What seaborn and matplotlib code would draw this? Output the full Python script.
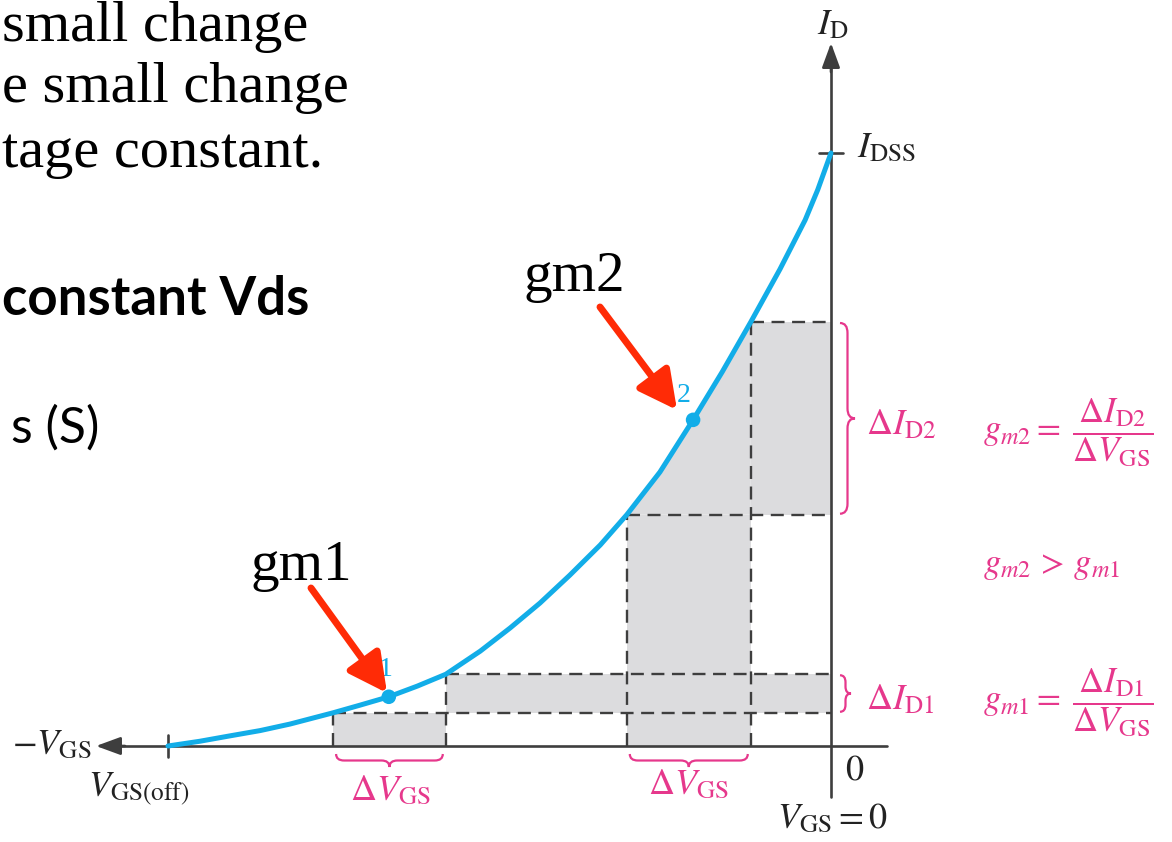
import numpy as np
import pandas as pd
import matplotlib
matplotlib.use("Agg")
import matplotlib.pyplot as plt
from matplotlib.path import Path
from matplotlib.patches import PathPatch, Polygon
import seaborn as sns

# JFET transfer characteristic, normalised: V_GS / |V_GS(off)| and I_D / I_DSS
vgs_curve = [-1.000, -0.952, -0.907, -0.861, -0.816, -0.751, -0.710, -0.667,
             -0.624, -0.581, -0.529, -0.484, -0.439, -0.394, -0.348, -0.308,
             -0.258, -0.208, -0.164, -0.121, -0.077, -0.039, -0.020, 0.000]
id_curve = [0.000, 0.008, 0.017, 0.026, 0.037, 0.056, 0.069, 0.083,
            0.101, 0.121, 0.160, 0.199, 0.241, 0.288, 0.339, 0.390,
            0.462, 0.550, 0.631, 0.715, 0.804, 0.887, 0.938, 1.000]

# operating points 1 and 2
pt_labels = ["1", "2"]
pt_vgs = [-0.667, -0.208]
pt_id = [0.083, 0.550]

# small-signal increments around each point
dvgs1 = [-0.751, -0.581]
did1 = [0.056, 0.121]
dvgs2 = [-0.308, -0.121]
did2 = [0.390, 0.715]

vgs_off = -1.0
idss = 1.0

# figure geometry: pixel <-> data helpers
W, H = 1172, 842
OX, OY = 831, 746          # origin in pixels
SX, SY = 663, 593          # pixels per unit


def X(px):
    return (px - OX) / SX


def Y(py):
    return (OY - py) / SY


def P(px, py):
    return (X(px), Y(py))


def PX(v):
    return OX + v * SX


def PY(i):
    return OY - i * SY


sns.set_theme(style="white")
plt.rcParams["mathtext.fontset"] = "stix"
plt.rcParams["font.family"] = ["Liberation Serif", "DejaVu Serif"]

BLUE = "#12ADE8"
PINK = "#E6388C"
RED = "#FF2B06"
GRAY = "#DCDCDE"
DARK = "#3E3E3E"

fig = plt.figure(figsize=(W / 100, H / 100), dpi=100)
ax = fig.add_axes([0, 0, 1, 1])
ax.axis("off")

# shaded increment areas
ax.add_patch(plt.Rectangle((dvgs1[0], 0), dvgs1[1] - dvgs1[0], did1[0],
                           color=GRAY, lw=0, zorder=1))
ax.add_patch(plt.Rectangle((dvgs1[1], did1[0]), 0 - dvgs1[1], did1[1] - did1[0],
                           color=GRAY, lw=0, zorder=1))
ax.add_patch(plt.Rectangle((dvgs2[0], 0), dvgs2[1] - dvgs2[0], did2[0],
                           color=GRAY, lw=0, zorder=1))
ax.add_patch(plt.Rectangle((dvgs2[1], did2[0]), 0 - dvgs2[1], did2[1] - did2[0],
                           color=GRAY, lw=0, zorder=1))
under = [(v, i) for v, i in zip(vgs_curve, id_curve) if dvgs2[0] <= v <= dvgs2[1]]
poly = [(dvgs2[0], did2[0])] + under + [(dvgs2[1], did2[1]), (dvgs2[1], did2[0])]
ax.add_patch(Polygon(poly, closed=True, color=GRAY, lw=0, zorder=1))

# dashed construction lines
dash = dict(color=DARK, lw=1.7, ls=(0, (5.5, 3.2)), zorder=2)
ax.plot([dvgs1[0], 0], [did1[0], did1[0]], **dash)
ax.plot([dvgs1[1], 0], [did1[1], did1[1]], **dash)
ax.plot([dvgs1[0], dvgs1[0]], [0, did1[0]], **dash)
ax.plot([dvgs1[1], dvgs1[1]], [0, did1[1]], **dash)
ax.plot([dvgs2[0], 0], [did2[0], did2[0]], **dash)
ax.plot([dvgs2[1], 0], [did2[1], did2[1]], **dash)
ax.plot([dvgs2[0], dvgs2[0]], [0, did2[0]], **dash)
ax.plot([dvgs2[1], dvgs2[1]], [0, did2[1]], **dash)

# axes with arrows
ax.plot([X(118), X(887)], [0, 0], color=DARK, lw=1.9, zorder=3)
ax.plot([0, 0], [Y(797), Y(62)], color=DARK, lw=1.9, zorder=3)
head = dict(arrowstyle="-|>,head_length=1.5,head_width=0.55", color=DARK,
            lw=1.9, shrinkA=0, shrinkB=0, mutation_scale=10)
ax.annotate("", xy=P(96, OY), xytext=P(125, OY), arrowprops=head, zorder=3)
ax.annotate("", xy=P(OX, 43), xytext=P(OX, 72), arrowprops=head, zorder=3)
# ticks at V_GS(off) and I_DSS
ax.plot([vgs_off, vgs_off], [11 / SY, -11 / SY], color=DARK, lw=1.9, zorder=3)
ax.plot([-12 / SX, 12 / SX], [idss, idss], color=DARK, lw=1.9, zorder=3)

# transfer curve and operating points
df_curve = pd.DataFrame({"vgs": vgs_curve, "id": id_curve})
sns.lineplot(data=df_curve, x="vgs", y="id", sort=False, estimator=None,
             color=BLUE, lw=3.6, ax=ax, zorder=5, solid_joinstyle="round")
df_pts = pd.DataFrame({"vgs": pt_vgs, "id": pt_id})
sns.scatterplot(data=df_pts, x="vgs", y="id", s=110, color=BLUE,
                edgecolor="none", ax=ax, zorder=7)
ax.text(pt_vgs[0] - 3 / SX, pt_id[0] + 27 / SY, pt_labels[0], color=BLUE,
        fontsize=20, ha="center", va="center", zorder=6)
ax.text(pt_vgs[1] - 9 / SX, pt_id[1] + 24 / SY, pt_labels[1], color=BLUE,
        fontsize=20, ha="center", va="center", zorder=6)


def brace_h(v0, v1, ytop_px, d=13, r=8, lw=1.6):
    x0, x1 = PX(v0) + 3, PX(v1) - 3
    xm = (x0 + x1) / 2
    ym = ytop_px + d / 2
    yt = ytop_px + d
    verts = [(x0, ytop_px), (x0, ym), (x0 + r, ym), (xm - r, ym), (xm, ym), (xm, yt),
             (xm, ym), (xm + r, ym), (x1 - r, ym), (x1, ym), (x1, ytop_px)]
    codes = [Path.MOVETO, Path.CURVE3, Path.CURVE3, Path.LINETO, Path.CURVE3, Path.CURVE3,
             Path.CURVE3, Path.CURVE3, Path.LINETO, Path.CURVE3, Path.CURVE3]
    verts = [P(a, b) for a, b in verts]
    ax.add_patch(PathPatch(Path(verts, codes), fill=False, color=PINK, lw=lw, zorder=4))


def brace_v(i0, i1, xl_px, d=14, r=9, lw=1.6):
    y0, y1 = PY(i1) + 1, PY(i0) - 1
    ym_ = (y0 + y1) / 2
    xm = xl_px + d / 2
    xt = xl_px + d
    verts = [(xl_px, y0), (xm, y0), (xm, y0 + r), (xm, ym_ - r), (xm, ym_), (xt, ym_),
             (xm, ym_), (xm, ym_ + r), (xm, y1 - r), (xm, y1), (xl_px, y1)]
    codes = [Path.MOVETO, Path.CURVE3, Path.CURVE3, Path.LINETO, Path.CURVE3, Path.CURVE3,
             Path.CURVE3, Path.CURVE3, Path.LINETO, Path.CURVE3, Path.CURVE3]
    verts = [P(a, b) for a, b in verts]
    ax.add_patch(PathPatch(Path(verts, codes), fill=False, color=PINK, lw=lw, zorder=4))


brace_h(dvgs1[0], dvgs1[1], 754)
brace_h(dvgs2[0], dvgs2[1], 754)
brace_v(did2[0], did2[1], 840, d=15, r=10)
brace_v(did1[0], did1[1], 840, d=11, r=7)

# red pointer arrows
red = dict(arrowstyle="-|>,head_length=1.55,head_width=0.8", color=RED, lw=5,
           shrinkA=0, shrinkB=0, mutation_scale=15)
ax.annotate("", xy=P(387, 693), xytext=P(311, 588), arrowprops=red, zorder=6)
ax.annotate("", xy=P(677, 410), xytext=P(600, 307), arrowprops=red, zorder=6)
ax.text(*P(250, 580), "gm1", fontsize=41, ha="left", va="baseline", color="black")
ax.text(*P(523, 291), "gm2", fontsize=41, ha="left", va="baseline", color="black")

# axis labels
lab = dict(fontsize=26, color="#222222")
ax.text(*P(833, 26), r"$I_{\rm D}$", ha="center", va="center", **lab)
ax.text(*P(857, 157), r"$I_{\rm DSS}$", ha="left", va="baseline", **lab)
ax.text(*P(91, 754), r"$-V_{\rm GS}$", ha="right", va="baseline", **lab)
ax.text(*P(139, 797), r"$V_{\rm GS(off)}$", ha="center", va="baseline", **lab)
ax.text(*P(855, 779), r"$0$", ha="center", va="baseline", **lab)
ax.text(*P(832, 828), r"$V_{\rm GS} = 0$", ha="center", va="baseline", **lab)

# increment labels and formulas
pk = dict(fontsize=26, color=PINK)
ax.text(*P(390, 800), r"$\Delta V_{\rm GS}$", ha="center", va="baseline", **pk)
ax.text(*P(688, 794), r"$\Delta V_{\rm GS}$", ha="center", va="baseline", **pk)
ax.text(*P(866, 434), r"$\Delta I_{\rm D2}$", ha="left", va="baseline", **pk)
ax.text(*P(866, 709), r"$\Delta I_{\rm D1}$", ha="left", va="baseline", **pk)
pf = dict(fontsize=25, color=PINK)
ax.text(*P(983, 433), r"$g_{m2} =\;\dfrac{\Delta I_{\rm D2}}{\Delta V_{\rm GS}}$",
        ha="left", va="center", **pf)
ax.text(*P(983, 573), r"$g_{m2}\,>\,g_{m1}$", ha="left", va="baseline", **pf)
ax.text(*P(983, 703), r"$g_{m1} =\;\dfrac{\Delta I_{\rm D1}}{\Delta V_{\rm GS}}$",
        ha="left", va="center", **pf)

# slide text on the left
ax.text(*P(2, 41), "small change", fontsize=42, ha="left", va="baseline", color="black")
ax.text(*P(2, 102), "e small change", fontsize=42, ha="left", va="baseline", color="black")
ax.text(*P(2, 167), "tage constant.", fontsize=42, ha="left", va="baseline", color="black")
ax.text(*P(309, 315), "constant Vds", fontsize=38, fontweight="bold", family="Lato",
        ha="right", va="baseline", color="black")
ax.text(*P(99, 443), "s (S)", fontsize=36, family="Lato", ha="right", va="baseline",
        color="black")

ax.set_xlim(X(0), X(W))
ax.set_ylim(Y(H), Y(0))
ax.set_xlabel("")
ax.set_ylabel("")

fig.savefig("out.png", dpi=100)
